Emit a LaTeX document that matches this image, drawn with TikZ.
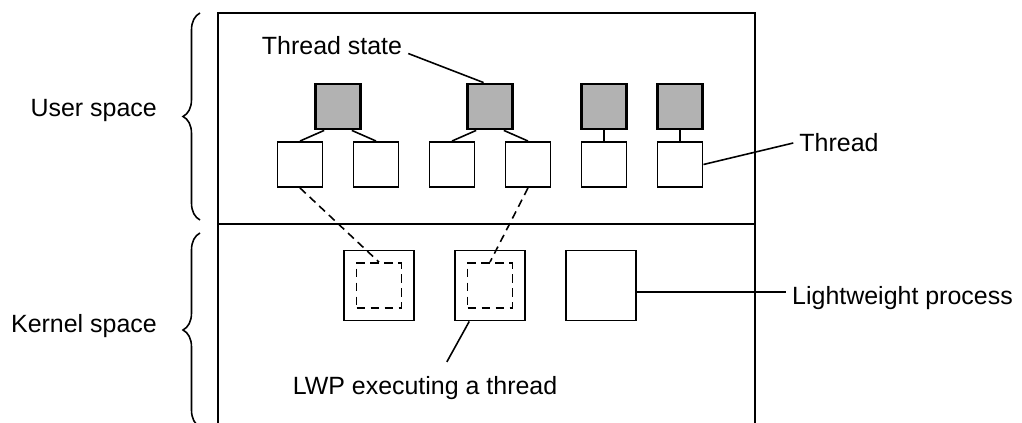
\documentclass[tikz,border=0pt]{standalone}
\usepackage{fontspec}
\setmainfont{Liberation Sans}
\usepackage{tikz}
\usetikzlibrary{positioning}
\usetikzlibrary{decorations.pathreplacing}

\begin{document}
\begin{tikzpicture}[on grid,node distance=1.52cm,auto,
    font=\fontsize{14.2pt}{17pt}\selectfont,
    thread/.style={draw,line width=1.1pt,minimum size=0.9cm,inner sep=0pt},
    tstate/.style={draw,line width=1.6pt,fill=black!30,minimum size=0.9cm,inner sep=0pt},
    lwpbox/.style={draw,line width=1.1pt,minimum size=1.4cm,inner sep=0pt},
    lwprun/.style={draw,line width=1pt,dash pattern=on 5pt off 3pt,minimum size=0.9cm,inner sep=0pt},
    wire/.style={line width=0.9pt},
    link/.style={line width=0.9pt,dash pattern=on 4.5pt off 3pt},
    spacebrace/.style={line width=0.9pt,decorate,decoration={brace,amplitude=0.34cm}}]
        \useasboundingbox (0,0) rectangle (20.44,8.46);
        \draw[line width=1.1pt] (4.36,0) -- (4.36,8.20) -- (15.10,8.20) -- (15.10,0);
        \draw[line width=1.1pt] (4.36,3.98) -- (15.10,3.98);
        \draw[spacebrace] (4.00,4.06) -- (4.00,8.20);
        \draw[spacebrace] (4.00,-0.08) -- (4.00,3.80);
        \node[anchor=east] (us) at (3.26,6.25) {User space};
        \node[anchor=east] (ks) at (3.26,1.93) {Kernel space};
        \node[thread] (t1) at (6.00,5.17) {};
        \node[thread] (t2) [right=of t1] {};
        \node[thread] (t3) [right=of t2] {};
        \node[thread] (t4) [right=of t3] {};
        \node[thread] (t5) [right=of t4] {};
        \node[thread] (t6) [right=of t5] {};
        \node[tstate] (g1) [above=1.16cm of t1, xshift=0.76cm] {};
        \node[tstate] (g2) [above=1.16cm of t3, xshift=0.76cm] {};
        \node[tstate] (g3) [above=1.16cm of t5] {};
        \node[tstate] (g4) [above=1.16cm of t6] {};
        \node[lwpbox] (l1) at (7.58,2.75) {};
        \node[lwpbox] (l2) [right=2.22cm of l1] {};
        \node[lwpbox] (l3) [right=2.22cm of l2] {};
        \node[lwprun] (i1) at (l1) {};
        \node[lwprun] (i2) at (l2) {};
        \node (tst) [above=1.22cm of g1, xshift=-0.12cm] {Thread state};
        \node (thr) [right=3.18cm of t6, yshift=0.43cm] {Thread};
        \node (lwp) [right=6.03cm of l3, yshift=-0.26cm] {Lightweight process};
        \node (lwpx) [below=2.06cm of l1, xshift=0.92cm] {LWP executing a thread};
        \draw[wire] (g1.240) to (t1.north);
        \draw[wire] (g1.300) to (t2.north);
        \draw[wire] (g2.240) to (t3.north);
        \draw[wire] (g2.300) to (t4.north);
        \draw[wire] (g3.south) to (t5.north);
        \draw[wire] (g4.south) to (t6.north);
        \draw[link] (t1.south) to (i1.north);
        \draw[link] (t4.south) to (i2.north);
        \draw[wire] (tst.-6) to (g2.105);
        \draw[wire] (t6.east) to (thr.west);
        \draw[wire] (l3.-10) to (l3.-10 -| lwp.west);
        \draw[wire,shorten >=0.2cm] (l2.240) to ([xshift=0.34cm]lwpx.north);
      \end{tikzpicture}
\end{document}
